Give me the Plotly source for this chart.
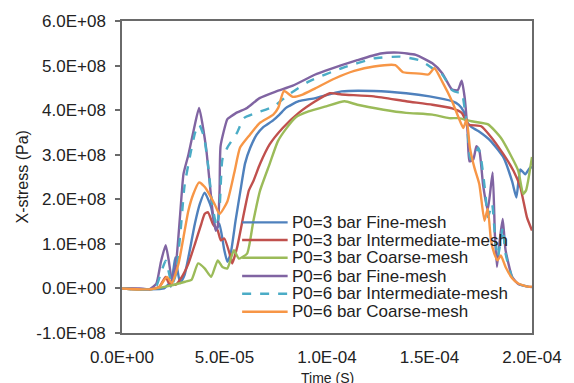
import plotly.graph_objects as go

# ---- data (time in microseconds, stress in units of 1E+08 Pa) ----
series_names = [
    "P0=3 bar Fine-mesh",
    "P0=3 bar Intermediate-mesh",
    "P0=3 bar Coarse-mesh",
    "P0=6 bar Fine-mesh",
    "P0=6 bar Intermediate-mesh",
    "P0=6 bar Coarse-mesh",
]

t_p3_fine = [0, 13.3, 20.5, 22.9, 23.8, 26.0, 27.1, 28.4, 30.5, 32.4, 35.6, 38.0, 40.3, 43.5, 45.9, 47.5,
             49.9, 51.4, 53.0, 55.4, 57.8, 60.0, 62.5, 65.7, 68.9, 73.7, 76.8, 80.0, 86.2, 94.3, 107.1,
             122.9, 138.6, 150.0, 161.0, 164.3, 166.7, 168.1, 170.5, 173.8, 180.0, 186.2, 190.3, 192.4,
             194.3, 196.7, 199.0, 200]
v_p3_fine = [0, -0.02, 0.0, 0.1, 0.04, 0.7, 0.4, 0.12, 0.3, 0.7, 1.46, 1.9, 2.15, 1.82, 1.3, 1.45,
             0.86, 0.6, 0.78, 1.52, 2.2, 2.8, 3.15, 3.45, 3.62, 3.77, 3.9, 4.05, 4.2, 4.27, 4.42,
             4.43, 4.38, 4.31, 4.2, 4.12, 3.97, 3.75, 3.62, 3.53, 3.3, 2.93, 2.4, 2.04,
             2.67, 2.56, 2.71, 2.72]

t_p3_inter = [0, 13.3, 18.1, 21.3, 22.9, 26.0, 29.2, 32.4, 35.6, 38.7, 40.3, 41.9, 44.3, 46.7, 48.2, 49.9,
              53.0, 53.8, 56.2, 59.4, 61.9, 64.1, 67.3, 72.0, 78.4, 86.2, 94.3, 101.4, 107.1, 122.9,
              138.6, 151.4, 161.0, 165.7, 168.9, 175.2, 180.0, 186.2, 190.95, 194.3, 197.5, 200]
v_p3_inter = [0, -0.02, 0.03, 0.26, 0.12, 0.08, 0.26, 0.56, 1.0, 1.45, 1.67, 1.71, 1.45, 1.3, 1.08, 1.12,
              0.7, 0.56, 0.93, 1.67, 2.2, 2.41, 2.79, 3.23, 3.6, 3.94, 4.2, 4.38, 4.35, 4.31,
              4.2, 4.12, 4.04, 3.94, 3.68, 3.64, 3.4, 3.0, 2.64, 2.27, 1.6, 1.3]

t_p3_coarse = [0, 13.3, 21.3, 30.8, 34.0, 37.1, 40.3, 43.5, 46.7, 49.0, 51.4, 54.6, 57.0, 61.0, 64.1,
               67.3, 72.0, 76.0, 80.0, 84.8, 91.0, 99.0, 108.6, 114.8, 127.6, 138.6, 151.4, 159.5,
               164.3, 170.5, 178.6, 184.8, 189.5, 193.3, 195.7, 197.1, 198.1, 200]
v_p3_coarse = [0, -0.02, 0.04, 0.15, 0.2, 0.56, 0.45, 0.26, 0.63, 0.48, 0.45, 0.86, 0.67, 0.78, 1.52,
               2.19, 2.79, 3.3, 3.58, 3.84, 3.97, 4.08, 4.2, 4.12, 4.01, 3.94, 3.9, 3.82,
               3.82, 3.75, 3.68, 3.38, 3.0, 2.64, 2.12, 2.2, 2.41, 2.95]

t_p6_fine = [0, 8.6, 13.3, 16.7, 19.0, 21.3, 22.9, 24.3, 26.2, 28.4, 30.0, 32.4, 35.2, 37.6, 41.0, 44.3,
             45.7, 46.7, 47.6, 48.1, 51.4, 52.9, 56.2, 61.0, 67.1, 75.2, 83.3, 94.3, 99.0, 114.8, 126.2,
             134.8, 143.3, 151.4, 156.2, 161.0, 163.8, 165.7, 167.1, 168.6, 169.5, 171.4, 172.9, 174.3,
             176.2, 178.4, 180.8, 181.9, 182.9, 184.3, 185.7, 187.1, 190.3, 193.3, 198.1, 200]
v_p6_fine = [0, 0, -0.02, 0.1, 0.6, 0.97, 0.6, 0.19, 0.5, 1.68, 2.57, 3.0, 3.6, 4.05, 3.16, 1.68,
             1.3, 1.4, 2.2, 3.2, 3.8, 3.85, 3.95, 4.05, 4.27, 4.42, 4.55, 4.8, 4.88, 5.12, 5.27,
             5.29, 5.24, 5.05, 4.83, 4.46, 4.45, 4.66, 4.3, 3.5, 2.85, 2.9, 3.19, 3.1,
             2.3, 1.75, 2.6, 1.2, 0.48, 1.1, 1.56, 0.86, 0.26, 0.1, 0.04, 0.03]

t_p6_inter = [0, 13.3, 16.7, 19.0, 21.3, 22.9, 24.3, 26.2, 28.6, 30.5, 33.3, 35.7, 37.6, 40.0, 41.9, 44.3,
              46.2, 47.6, 49.0, 51.4, 56.2, 59.5, 65.7, 73.8, 81.4, 91.0, 107.1, 122.9, 135.7, 145.2,
              151.4, 156.2, 161.0, 163.8, 165.7, 167.1, 168.6, 170.0, 171.9, 173.8, 175.2, 177.1, 178.6,
              180.5, 181.9, 183.3, 184.8, 185.7, 187.1, 190.3, 193.3, 198.1, 200]
v_p6_inter = [0, -0.02, 0.05, 0.35, 0.62, 0.35, 0.08, 0.3, 1.3, 2.3, 3.0, 3.5, 3.68, 3.4, 2.8, 1.8,
              1.4, 1.8, 2.9, 3.16, 3.5, 3.82, 3.94, 4.08, 4.35, 4.64, 4.94, 5.16, 5.2, 5.12,
              4.94, 4.8, 4.45, 4.4, 4.4, 4.05, 3.5, 2.9, 2.95, 3.16, 2.9, 2.2, 1.6,
              1.9, 1.2, 0.7, 1.1, 1.37, 0.78, 0.25, 0.1, 0.04, 0.03]

t_p6_coarse = [0, 13.3, 18.1, 21.9, 24.3, 27.6, 30.0, 32.4, 34.8, 37.6, 40.5, 45.1, 47.6, 51.4, 54.8,
               57.6, 62.4, 67.1, 73.8, 76.2, 79.0, 83.3, 88.1, 94.3, 103.8, 113.3, 122.9, 133.3, 137.1,
               145.2, 149.5, 152.4, 156.2, 161.0, 164.3, 166.5, 168.1, 169.7, 171.9, 174.3, 176.8, 178.4,
               180.0, 181.6, 183.2, 184.8, 187.1, 190.3, 193.3, 198.1, 200]
v_p6_coarse = [0, -0.02, 0.03, 0.26, 0.12, 0.56, 1.15, 1.75, 2.12, 2.38, 2.27, 1.9, 1.67, 1.95, 2.6,
               3.16, 3.45, 3.71, 3.9, 4.05, 4.43, 4.3, 4.35, 4.49, 4.71, 4.88, 4.98, 5.01, 4.85,
               4.82, 4.8, 4.94, 4.64, 4.2, 3.82, 3.6, 3.79, 3.16, 2.71, 2.34, 1.52, 1.79,
               1.08, 0.78, 0.63, 0.74, 0.48, 0.23, 0.11, 0.04, 0.04]

x_tick_vals = [0, 5e-5, 1e-4, 1.5e-4, 2e-4]
x_tick_text = ["0.0E+00", "5.0E-05", "1.0E-04", "1.5E-04", "2.0E-04"]
y_tick_vals = [-1e8, 0, 1e8, 2e8, 3e8, 4e8, 5e8, 6e8]
y_tick_text = ["-1.0E+08", "0.0E+00", "1.0E+08", "2.0E+08", "3.0E+08", "4.0E+08", "5.0E+08", "6.0E+08"]

# ---- styles ----
colors = ["#4F81BD", "#C0504D", "#9BBB59", "#8064A2", "#4BACC6", "#F79646"]
dashes = ["solid", "solid", "solid", "solid", "dash", "solid"]

all_t = [t_p3_fine, t_p3_inter, t_p3_coarse, t_p6_fine, t_p6_inter, t_p6_coarse]
all_v = [v_p3_fine, v_p3_inter, v_p3_coarse, v_p6_fine, v_p6_inter, v_p6_coarse]

FONT = "Liberation Sans, Arial, sans-serif"
fig = go.Figure()
for name, ts, vs, c, d in zip(series_names, all_t, all_v, colors, dashes):
    fig.add_trace(go.Scatter(
        x=[t * 1e-6 for t in ts], y=[v * 1e8 for v in vs], name=name, mode="lines",
        line=dict(color=c, width=2.4, dash=d, shape="spline", smoothing=0.5),
        showlegend=False,
    ))

# custom legend (swatches + text), paper coordinates
leg_rows_y = [0.3545, 0.298, 0.241, 0.1825, 0.126, 0.068]
for name, c, d, yy in zip(series_names, colors, dashes, leg_rows_y):
    fig.add_shape(type="line", xref="paper", yref="paper", x0=0.293, x1=0.404, y0=yy, y1=yy,
                  line=dict(color=c, width=2.4, dash=d))
    fig.add_annotation(xref="paper", yref="paper", x=0.41, y=yy, text=name, showarrow=False,
                       xanchor="left", yanchor="middle", font=dict(family=FONT, size=17, color="#222"))

axis_line = dict(showline=True, linecolor="#6a6a6a", linewidth=1.5, mirror=True,
                 showgrid=False, zeroline=False)
fig.update_xaxes(range=[0, 2e-4], tickvals=x_tick_vals, ticktext=x_tick_text, ticks="",
                 ticklabelstandoff=8, tickfont=dict(family=FONT, size=17, color="#222"), **axis_line)
fig.update_yaxes(range=[-1e8, 6e8], tickvals=y_tick_vals, ticktext=y_tick_text, ticks="outside",
                 ticklen=5, tickcolor="#6a6a6a", tickwidth=1.5, ticklabelstandoff=6,
                 tickfont=dict(family=FONT, size=17, color="#222"), **axis_line)

fig.add_annotation(xref="paper", yref="paper", x=0.5, y=(333 - 378) / 314, text="Time (S)",
                   showarrow=False, xanchor="center", yanchor="middle",
                   font=dict(family=FONT, size=14, color="#222"))
fig.add_annotation(xref="paper", yref="paper", x=(20 - 122) / 420, y=0.5, text="X-stress (Pa)",
                   textangle=-90, showarrow=False, xanchor="center", yanchor="middle",
                   font=dict(family=FONT, size=16, color="#222"))

fig.update_layout(width=574, height=383, margin=dict(l=122, r=32, t=19, b=50),
                  paper_bgcolor="white", plot_bgcolor="white", showlegend=False)

fig.write_html("out.html")
